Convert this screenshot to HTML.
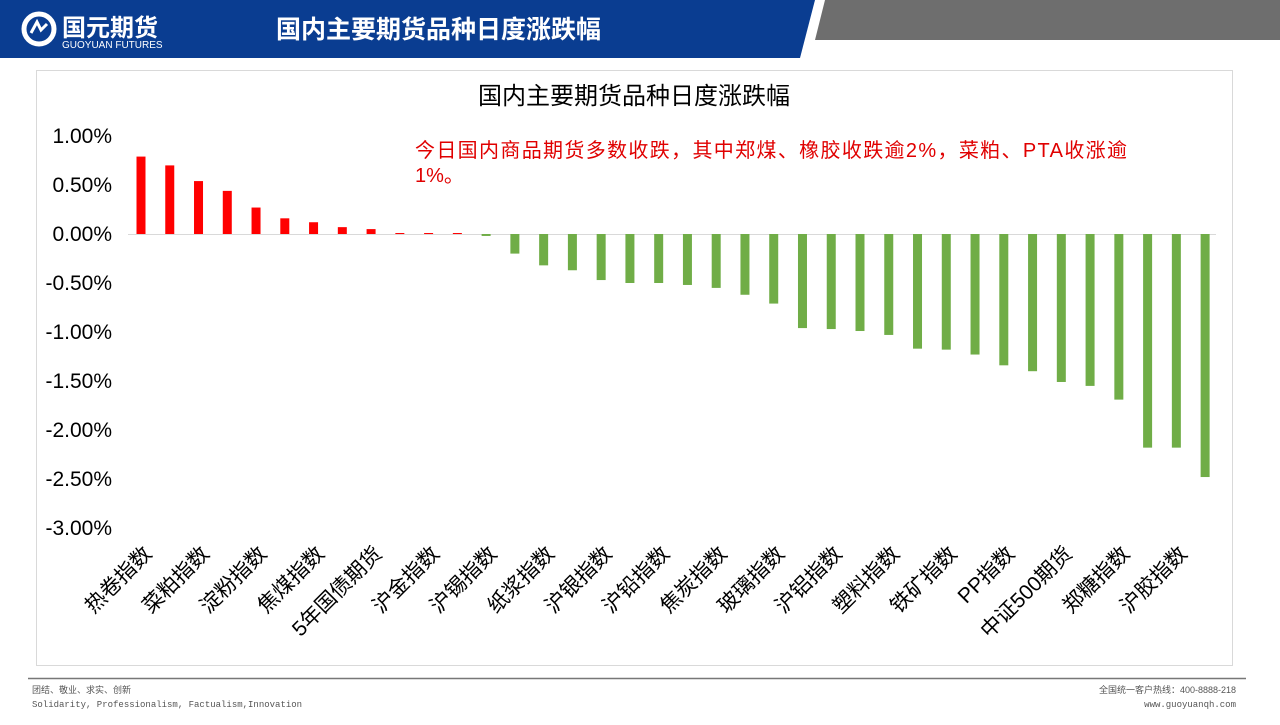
<!DOCTYPE html>
<html><head><meta charset="utf-8"><style>
body{margin:0;width:1280px;height:720px;overflow:hidden;background:#fff;font-family:"Liberation Sans","Noto Sans CJK SC",sans-serif}
</style></head><body>
<svg width="1280" height="720" xmlns="http://www.w3.org/2000/svg" font-family="Liberation Sans, Noto Sans CJK SC, sans-serif">
<polygon points="0,0 815,0 800,58 0,58" fill="#0a3d91"/>
<polygon points="825,0 1280,0 1280,40 815,40" fill="#6e6e6e"/>
<circle cx="39" cy="29" r="15" fill="none" stroke="#fff" stroke-width="5"/>
<path d="M31 33 L37 22 L41 30 L47 24" stroke="#fff" stroke-width="3" fill="none"/>
<text x="62" y="36" font-size="24" font-weight="bold" fill="#fff" font-family="Noto Sans CJK SC, sans-serif">国元期货</text>
<text x="62" y="48" font-size="10" fill="#fff">GUOYUAN FUTURES</text>
<text x="276" y="38" font-size="25" font-weight="bold" fill="#fff" font-family="Noto Sans CJK SC, sans-serif">国内主要期货品种日度涨跌幅</text>
<rect x="36.5" y="70.5" width="1196" height="595" fill="none" stroke="#d9d9d9"/>
<text x="634" y="104" font-size="24" text-anchor="middle" fill="#000" font-family="Noto Sans CJK SC, sans-serif">国内主要期货品种日度涨跌幅</text>
<g font-size="21" fill="#000" text-anchor="end">
<text x="112" y="143">1.00%</text><text x="112" y="192">0.50%</text><text x="112" y="241">0.00%</text>
<text x="112" y="290">-0.50%</text><text x="112" y="339">-1.00%</text><text x="112" y="388">-1.50%</text>
<text x="112" y="437">-2.00%</text><text x="112" y="486">-2.50%</text><text x="112" y="535">-3.00%</text>
</g>
<line x1="128" y1="234.5" x2="1216" y2="234.5" stroke="#d9d9d9"/>
<g id="bars"></g>
<g id="labels" font-size="21" fill="#000" text-anchor="end" font-family="Liberation Sans, Noto Sans CJK SC, sans-serif"></g>
<text x="415" y="157" font-size="20" fill="#e00000" textLength="712" lengthAdjust="spacing" font-family="Liberation Sans, Noto Sans CJK SC, sans-serif">今日国内商品期货多数收跌，其中郑煤、橡胶收跌逾2%，菜粕、PTA收涨逾</text>
<text x="415" y="182" font-size="20" fill="#e00000" font-family="Liberation Sans, Noto Sans CJK SC, sans-serif">1%。</text>
<line x1="28" y1="678.5" x2="1246" y2="678.5" stroke="#777" stroke-width="1.5"/>
<text x="32" y="693" font-size="9" fill="#555">团结、敬业、求实、创新</text>
<text x="32" y="707" font-size="9" fill="#555" font-family="Liberation Mono, monospace">Solidarity, Professionalism, Factualism,Innovation</text>
<text x="1236" y="693" font-size="9" fill="#555" text-anchor="end">全国统一客户热线：400-8888-218</text>
<text x="1236" y="707" font-size="9" fill="#555" text-anchor="end" font-family="Liberation Mono, monospace">www.guoyuanqh.com</text>
</svg>
<script>
var v=[0.79,0.70,0.54,0.44,0.27,0.16,0.12,0.07,0.05,0.01,0.01,0.01,-0.02,-0.20,-0.32,-0.37,-0.47,-0.50,-0.50,-0.52,-0.55,-0.62,-0.71,-0.96,-0.97,-0.99,-1.03,-1.17,-1.18,-1.23,-1.34,-1.40,-1.51,-1.55,-1.69,-2.18,-2.18,-2.48];
var L=["热卷指数","菜粕指数","淀粉指数","焦煤指数","5年国债期货","沪金指数","沪锡指数","纸浆指数","沪银指数","沪铅指数","焦炭指数","玻璃指数","沪铝指数","塑料指数","铁矿指数","PP指数","中证500期货","郑糖指数","沪胶指数"];
var ns="http://www.w3.org/2000/svg",b=document.getElementById("bars"),lg=document.getElementById("labels");
v.forEach(function(d,i){var x=141+i*28.76,h=Math.abs(d)*98,r=document.createElementNS(ns,"rect");
r.setAttribute("x",x-4.5);r.setAttribute("width",9);r.setAttribute("y",d>=0?234-h:234);r.setAttribute("height",Math.max(h,1));
r.setAttribute("fill",d>=0?"#ff0000":"#70ad47");b.appendChild(r);
if(i%2==0){var t=document.createElementNS(ns,"text");var lx=x+12,ly=555;t.setAttribute("x",lx);t.setAttribute("y",ly);
t.setAttribute("transform","rotate(-45 "+lx+" "+ly+")");t.textContent=L[i/2];lg.appendChild(t);}});
</script>
</body></html>
